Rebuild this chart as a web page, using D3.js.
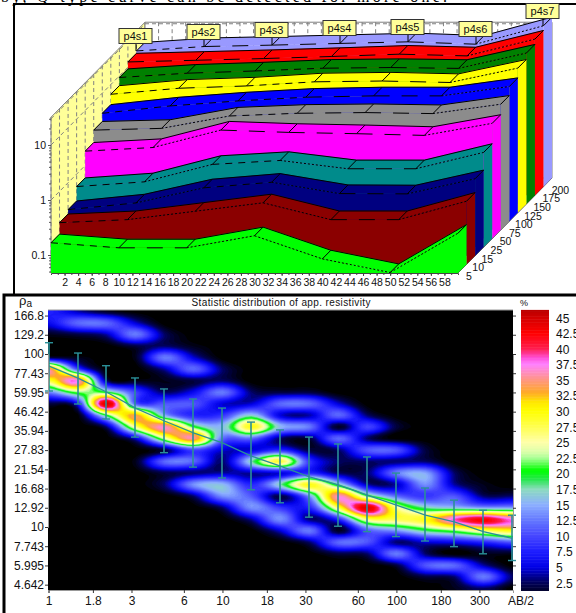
<!DOCTYPE html>
<html>
<head>
<meta charset="utf-8">
<style>
  html, body { margin: 0; padding: 0; background: #fff; overflow: hidden; }
  text { font-family: "Liberation Sans", Arial, sans-serif; fill: #111; }
  .tick text { font-family: "Liberation Sans", Arial, sans-serif; fill: #111; }
</style>
<script src="https://cdn.jsdelivr.net/npm/d3@7/dist/d3.min.js"></script>
</head>
<body>
<svg id="container" width="576" height="613"></svg>
<script>
// ---- data ----

// upper chart: one row of resistivity per depth, one value per station
var stationX = [0, 10, 20, 30, 40, 50, 60];
var stationNames = ['p4s1', 'p4s2', 'p4s3', 'p4s4', 'p4s5', 'p4s6', 'p4s7'];
var depthNames = [5, 10, 15, 25, 50, 75, 100, 125, 150, 175, 200];
var depthColors = ['#00ff00', '#8b0000', '#000080', '#008b8b', '#ff00ff', '#8c8c8c', '#0000ff', '#ffff00', '#008000', '#ff0000', '#9999ff'];
var depth5 = [0.167, 0.135, 0.135, 0.224, 0.085, 0.048, 0.249];
var depth10 = [0.27, 0.306, 0.435, 0.619, 0.306, 0.306, 0.662];
var depth15 = [0.324, 0.429, 0.807, 1.02, 0.635, 0.627, 1.18];
var depth25 = [0.593, 0.723, 1.5, 1.77, 1.25, 1.25, 2.48];
var depth50 = [1.82, 2.12, 4.4, 3.99, 3.78, 3.52, 5.83];
var depth75 = [3.06, 3.29, 5.52, 6.19, 6.37, 6.11, 9.04];
var depth100 = [4.31, 5.86, 7.23, 8.45, 8.93, 8.93, 13.2];
var depth125 = [6.65, 8.56, 9.43, 11.2, 11.6, 10.9, 19.9];
var depth150 = [9.35, 11.2, 12.3, 13.8, 14.2, 13.7, 26];
var depth175 = [12.5, 13.4, 14.4, 15.7, 17.3, 16.1, 32.5];
var depth200 = [13.8, 16.6, 17.6, 18.9, 20.2, 18.3, 39.6];
var surfaces = [depth5, depth10, depth15, depth25, depth50, depth75, depth100, depth125, depth150, depth175, depth200];

// lower chart: axes
var abTicks = [1, 1.8, 3, 6, 10, 18, 30, 60, 100, 180, 300];
var rhoTicks = [166.8, 129.2, 100, 77.43, 59.95, 46.42, 35.94, 27.83, 21.54, 16.68, 12.92, 10, 7.743, 5.995, 4.642];
var percentTicks = [45, 42.5, 40, 37.5, 35, 32.5, 30, 27.5, 25, 22.5, 20, 17.5, 15, 12.5, 10, 7.5, 5, 2.5];

// AB/2 of each column, with error bars on rho
var abColumns = [1, 1.468, 2.154, 3.162, 4.642, 6.813, 10, 14.68, 21.54, 31.62, 46.42, 68.13, 100, 146.8, 215.4, 316.2, 464.2];
var rhoMean = [85.3, 72.7, 60.3, 48.7, 41, 35, 30.6, 25.7, 22.5, 19.5, 17.5, 15.3, 13.4, 11.7, 10.7, 9.4, 8.6];
var rhoHigh = [116.2, 101.3, 85.6, 72.7, 62.8, 54.9, 48.7, 40.4, 36.4, 33.1, 30.2, 25.4, 20.5, 16.8, 14.3, 12.5, 11.7];
var rhoLow = [61.1, 51.4, 42.1, 33.1, 26.9, 22.2, 19.2, 16.4, 13.8, 11.4, 10.1, 9.4, 8.8, 8.3, 7.7, 7, 6.4];

// percent of soundings in each rho class (top row first), one column per abColumns
var rhoRows = [177, 151, 129.5, 111, 95.3, 81.7, 70.1, 60.1, 51.6, 44.2, 37.9, 32.5, 27.9, 23.9, 20.5, 17.6, 15.1, 12.95, 11.1, 9.52, 8.17, 7, 6.01, 5.15, 4.42];
var percentGrid = [
  [ 8, 4, 1, 0, 0, 0, 0, 0, 0, 0, 0, 0, 0, 0, 0, 0, 0],
  [ 6,12,12, 5, 0, 0, 0, 0, 0, 0, 0, 0, 0, 0, 0, 0, 0],
  [ 1, 2, 4,13, 3, 0, 0, 0, 0, 0, 0, 0, 0, 0, 0, 0, 0],
  [ 0, 0, 0, 2, 3, 1, 0, 0, 0, 0, 0, 0, 0, 0, 0, 0, 0],
  [ 2, 1, 0, 1,13, 5, 0, 0, 0, 0, 0, 0, 0, 0, 0, 0, 0],
  [36,10, 0, 0, 4,12, 3, 0, 0, 0, 0, 0, 0, 0, 0, 0, 0],
  [28,38, 3, 1, 1, 2, 3, 0, 0, 0, 0, 0, 0, 0, 0, 0, 0],
  [13,22,20,10, 3, 6,13, 3, 2, 2, 0, 0, 0, 0, 0, 0, 0],
  [ 2, 6,46,11,11,11, 5, 5,12,12, 5, 0, 0, 0, 0, 0, 0],
  [ 0, 0,20,34,15, 8, 9,17, 5, 4,12, 3, 0, 0, 0, 0, 0],
  [ 0, 0, 3,26,37,21,16,30,16,13, 1,10, 2, 0, 0, 0, 0],
  [ 0, 0, 0, 5,24,36,12,12, 3, 2,12, 3, 0, 0, 0, 0, 0],
  [ 0, 0, 0, 0, 2,10, 5, 5, 8, 2, 3,11,11, 2, 0, 0, 0],
  [ 0, 0, 0, 1,12,12, 3,18,29, 9, 3, 3, 3, 3, 0, 0, 0],
  [ 0, 0, 0, 0, 2, 3, 4, 4, 5, 8, 3, 3,13,15, 3, 0, 0],
  [ 0, 0, 0, 0, 3,14,16, 8,18,30,18, 4, 4,14, 4, 1, 0],
  [ 0, 0, 0, 0, 0, 3,14,11, 2,14,37,21,12, 9,11, 3, 3],
  [ 0, 0, 0, 0, 0, 0, 3,14, 9, 8,28,45,26,18,16,14,14],
  [ 0, 0, 0, 0, 0, 0, 0, 4,14, 3, 8,27,28,30,39,43,38],
  [ 0, 0, 0, 0, 0, 0, 0, 0, 5,13, 1,11,14,19,22,27,30],
  [ 0, 0, 0, 0, 0, 0, 0, 0, 0, 3,12,11, 3, 5, 6, 8,11],
  [ 0, 0, 0, 0, 0, 0, 0, 0, 0, 0, 2, 3,13, 3, 0, 1, 1],
  [ 0, 0, 0, 0, 0, 0, 0, 0, 0, 0, 0, 0, 2,11,12, 4, 0],
  [ 0, 0, 0, 0, 0, 0, 0, 0, 0, 0, 0, 0, 0, 2, 3,13, 3],
  [ 0, 0, 0, 0, 0, 0, 0, 0, 0, 0, 0, 0, 0, 0, 1, 3, 0]
];

// colour bar stops
var rampLevels = [0, 2.5, 5, 7.5, 10, 12.5, 15, 17.5, 19, 20.5, 22.5, 23.5, 25, 27.5, 30, 31.5, 33, 35, 37.5, 38.5, 40, 42.5, 45, 47];
var rampColors = ['#000000', '#00005a', '#0000e6', '#1e1eff', '#4646ff', '#6478ff', '#8cafff', '#8cdcbe', '#28e650', '#00ff00', '#aaff96', '#dcffaa', '#ffffaa', '#ffff50', '#ffff00', '#ffe600', '#ffaa28', '#ff9682', '#ff82ff', '#ff50dc', '#ff1e50', '#ff0000', '#d20000', '#aa0000'];


var svg = d3.select('#container');

// scrap of the page text above the figures, cut by the top of the picture
svg.append('text')
    .attr('x', 1)
    .attr('y', 2)
    .attr('textLength', 446)
    .style('font-family', '"Liberation Serif", serif')
    .style('font-size', '16px')
    .style('fill', '#000')
    .text('by, Q-type curve can be detected for more one.');

// panel frames
svg.append('path').attr('d', 'M14,294V4H576').attr('fill', 'none').attr('stroke', '#000').attr('stroke-width', 2);
svg.append('path').attr('d', 'M4,613V295H576').attr('fill', 'none').attr('stroke', '#000').attr('stroke-width', 3);


// ---- upper chart ----
var x3d = d3.scaleLinear().domain([0, 60]).range([51, 458]);
var z3d = d3.scaleLog().domain([0.1, 10]).range([255, 145]);
var dx3d = d3.scaleLinear().domain([0, 11]).range([0, 94]);
var dy3d = d3.scaleLinear().domain([0, 11]).range([0, -95]);
var baseY = 273;
var topZ = 32;

// project station x, value v, depth slot d to the page
function proj(x, v, d){
  return [x3d(x) + dx3d(d), z3d(v) + dy3d(d)];
}
function projBase(x, d){
  return [x3d(x) + dx3d(d), baseY + dy3d(d)];
}
function poly(pts){
  return 'M' + pts.map(p => p.join(',')).join('L') + 'Z';
}

var upper = svg.append('g');
var wallGrey = '#808080';

// walls
upper.append('path')
    .attr('d', poly([projBase(0, 0), proj(0, topZ, 0), proj(0, topZ, 11), projBase(0, 11)]))
    .attr('fill', '#ffff99').attr('stroke', wallGrey);
upper.append('path')
    .attr('d', poly([projBase(0, 11), proj(0, topZ, 11), proj(60, topZ, 11), projBase(60, 11)]))
    .attr('fill', '#fff').attr('stroke', wallGrey);
upper.append('path')
    .attr('d', poly([projBase(60, 0), projBase(60, 11)]))
    .attr('fill', 'none').attr('stroke', '#555');

// wall grid
var wallGrid = upper.append('g').attr('fill', 'none').attr('stroke', wallGrey).attr('stroke-dasharray', '4,3');
d3.range(2, 60, 2).forEach(function(x){
  wallGrid.append('path').attr('d', d3.line()([proj(x, topZ, 11), projBase(x, 11)]));
});
depthNames.forEach(function(n, i){
  wallGrid.append('path').attr('d', d3.line()([proj(0, topZ, i), projBase(0, i)]));
});
[1, 10, 30].forEach(function(v){
  wallGrid.append('path').attr('d', d3.line()([proj(0, v, 0), proj(0, v, 11)]));
  wallGrid.append('path').attr('d', d3.line()([proj(0, v, 11), proj(60, v, 11)]));
});

// surfaces, back to front
d3.range(surfaces.length - 1, -1, -1).forEach(function(d){
  var vals = surfaces[d];
  var color = depthColors[d];
  var front = stationX.map((x, k) => proj(x, vals[k], d));
  var back = stationX.map((x, k) => proj(x, vals[k], d + 1));
  var g = upper.append('g');

  // right side
  g.append('path')
      .attr('d', poly([front[6], back[6], projBase(60, d + 1), projBase(60, d)]))
      .attr('fill', color);
  // top ribbon
  g.append('path')
      .attr('d', poly(front.concat(back.slice().reverse())))
      .attr('fill', color).attr('stroke', color).attr('stroke-width', 0.5);
  // front face
  g.append('path')
      .attr('d', poly(front.concat([projBase(60, d), projBase(0, d)])))
      .attr('fill', color);

  // back edge, solid
  g.append('path')
      .attr('d', d3.line()(back))
      .attr('fill', 'none').attr('stroke', '#000');

  // front edge, stippled; the stipple looks longer where the line is flat
  d3.pairs(front).forEach(function(seg){
    var slope = Math.abs((seg[1][1] - seg[0][1]) / (seg[1][0] - seg[0][0]));
    g.append('path')
        .attr('d', d3.line()(seg))
        .attr('fill', 'none').attr('stroke', '#000')
        .attr('stroke-dasharray', slope < 0.04 ? '16,12' : (slope < 0.12 ? '7,6' : '2,2'));
  });

  // ties between the two edges
  front.forEach(function(p, k){
    g.append('path').attr('d', d3.line()([p, back[k]])).attr('fill', 'none').attr('stroke', '#000');
  });
});

// x axis
upper.append('g')
    .attr('transform', `translate(0, ${baseY})`)
    .call(d3.axisBottom(x3d).tickValues(d3.range(1, 60)).tickSize(2).tickFormat(''))
    .call(g => g.selectAll('line').attr('stroke', '#444'))
    .call(g => g.select('.domain').attr('stroke', '#444'));
upper.append('g')
    .attr('transform', `translate(0, ${baseY})`)
    .call(d3.axisBottom(x3d).tickValues(d3.range(2, 60, 2)).tickSize(3).tickPadding(3))
    .call(g => g.select('.domain').remove())
    .call(g => g.selectAll('line').attr('stroke', '#444'))
    .call(g => g.selectAll('text').style('font-size', '10.5px').attr('fill', '#222'));

// value axis
var zMinor = [];
[0.01, 0.1, 1, 10].forEach(dec => d3.range(1, 10).forEach(m => { if(m*dec >= 0.05 && m*dec <= topZ) zMinor.push(m*dec); }));
upper.append('g')
    .attr('transform', 'translate(51, 0)')
    .call(d3.axisLeft(z3d).tickValues(zMinor).tickSize(2).tickFormat(''))
    .call(g => g.select('.domain').remove())
    .call(g => g.selectAll('line').attr('stroke', '#555'));
upper.append('g')
    .attr('transform', 'translate(51, 0)')
    .call(d3.axisLeft(z3d).tickValues([0.1, 1, 10]).tickSize(3).tickPadding(2).tickFormat(d3.format('~g')))
    .call(g => g.select('.domain').remove())
    .call(g => g.selectAll('line').attr('stroke', '#555'))
    .call(g => g.selectAll('text').style('font-size', '10.5px').attr('fill', '#222'));

// depth labels
upper.append('g').selectAll('text')
    .data(depthNames)
  .enter().append('text')
    .attr('x', (d, i) => projBase(60, i)[0] + 11 + i * 0.6)
    .attr('y', (d, i) => projBase(60, i)[1] + 7)
    .attr('text-anchor', 'middle')
    .attr('fill', '#222')
    .style('font-size', '10.5px')
    .text(d => d);

// station labels on the last surface
var stations = upper.append('g').selectAll('g')
    .data(stationNames)
  .enter().append('g')
    .attr('transform', (d, k) => {
      var p = proj(stationX[k], depth200[k], 10);
      return `translate(${Math.round(p[0])}, ${Math.round(p[1])})`;
    });
stations.append('line').attr('y1', -8).attr('y2', 0).attr('stroke', '#000');
stations.append('rect')
    .attr('x', -17).attr('y', -22.5).attr('width', 33).attr('height', 15)
    .attr('fill', '#ffff99').attr('stroke', '#333');
stations.append('text')
    .attr('x', -0.5).attr('y', -11)
    .attr('text-anchor', 'middle')
    .style('font-size', '11px')
    .text(d => d);


// ---- lower chart ----
var plot = {left: 48, right: 513, top: 310, bottom: 590};
var xAb = d3.scaleLog().domain([1, 468]).range([48.5, 513]);
var yRho = d3.scaleLog().domain([100, 10]).range([354, 527]);
var yPct = d3.scaleLinear().domain([45, 2.5]).range([318, 583]);
var heatColor = d3.scaleLinear().domain(rampLevels).range(rampColors).clamp(true);

var lower = svg.append('g');

lower.append('clipPath').attr('id', 'plotClip')
  .append('rect')
    .attr('x', plot.left).attr('y', plot.top)
    .attr('width', plot.right - plot.left).attr('height', plot.bottom - plot.top);

var heat = lower.append('g').attr('clip-path', 'url(#plotClip)');
heat.append('rect')
    .attr('x', plot.left).attr('y', plot.top)
    .attr('width', plot.right - plot.left).attr('height', plot.bottom - plot.top)
    .attr('fill', '#000');

// the original image is a smoothed raster, so resample the grid (cubic) before contouring
var fine = 5;
function cubic(a, b, c, d, t){
  return b + 0.5*t*(c - a + t*(2*a - 5*b + 4*c - d + t*(3*(b - c) + d - a)));
}
function resample(arr, n){
  var out = [];
  for(var g = 0; g < n; g++){
    var u = (g + 0.5)/fine - 0.5;
    var i = Math.max(0, Math.min(arr.length - 2, Math.floor(u)));
    var at = j => arr[Math.max(0, Math.min(arr.length - 1, j))];
    out.push(cubic(at(i - 1), at(i), at(i + 1), at(i + 2), u - i));
  }
  return out;
}
var nx = abColumns.length * fine, ny = rhoRows.length * fine;
var rowsFine = percentGrid.map(r => resample(r, nx));
var heatValues = [];
d3.range(nx).forEach(function(ix){
  var col = resample(rowsFine.map(r => r[ix]), ny);
  col.forEach((v, iy) => { heatValues[iy*nx + ix] = Math.max(0, v); });
});

// contour grid coordinates back to the page through the chart scales
var colPx = d3.scaleLinear().domain(d3.range(abColumns.length)).range(abColumns.map(v => xAb(v)));
var rowPx = d3.scaleLinear().domain(d3.range(rhoRows.length)).range(rhoRows.map(v => yRho(v)));
var gridPath = d3.geoPath(d3.geoTransform({
  point: function(gx, gy){ this.stream.point(colPx(gx/fine - 0.5), rowPx(gy/fine - 0.5)); }
}));

var levels = d3.range(0.5, 47, 0.5);
var contours = d3.contours()
    .size([nx, ny])
    .thresholds(levels)(heatValues);

heat.selectAll('path')
    .data(contours)
  .enter().append('path')
    .attr('d', gridPath)
    .attr('fill', d => heatColor(d.value));

// mean line and error bars
var teal = '#2a8f98';
heat.append('path')
    .attr('d', d3.line().x((d, i) => xAb(abColumns[i])).y(d => yRho(d))(rhoMean))
    .attr('fill', 'none').attr('stroke', teal).attr('stroke-width', 1.3);

var bars = lower.append('g').attr('stroke', teal);
abColumns.forEach(function(ab, i){
  var cx = Math.round(xAb(ab));
  bars.append('line').attr('x1', cx).attr('x2', cx).attr('y1', yRho(rhoHigh[i])).attr('y2', yRho(rhoLow[i])).attr('stroke-width', 1.6);
  [rhoHigh[i], rhoLow[i]].forEach(function(r){
    bars.append('line').attr('x1', cx - 4).attr('x2', cx + 4).attr('y1', yRho(r)).attr('y2', yRho(r)).attr('stroke-width', 1.4);
  });
});

// axes
function styleAxis(g){
  g.select('.domain').attr('stroke', '#999');
  g.selectAll('line').attr('stroke', '#333');
  g.selectAll('text').style('font-size', '12px').attr('fill', '#222');
}
lower.append('g')
    .attr('transform', `translate(0, ${plot.bottom})`)
    .call(d3.axisBottom(xAb).tickValues(abTicks).tickSize(3).tickPadding(3).tickFormat(d => d))
    .call(styleAxis);
lower.append('g')
    .attr('transform', `translate(${plot.left}, 0)`)
    .call(d3.axisLeft(yRho).tickValues(rhoTicks).tickSize(3).tickPadding(1).tickFormat(d => d))
    .call(styleAxis);
lower.append('g')
    .attr('transform', `translate(${plot.right}, 0)`)
    .call(d3.axisRight(yRho).tickValues(rhoTicks).tickSize(3).tickFormat(''))
    .call(styleAxis);
lower.append('line')
    .attr('x1', plot.left).attr('x2', plot.right).attr('y1', plot.top).attr('y2', plot.top)
    .attr('stroke', '#999');

lower.append('text')
    .attr('x', 521).attr('y', 605)
    .attr('text-anchor', 'middle')
    .style('font-size', '12px').attr('fill', '#222')
    .text('AB/2');

lower.append('text')
    .attr('x', 281).attr('y', 305.5)
    .attr('text-anchor', 'middle')
    .attr('textLength', 179)
    .style('font-size', '10px')
    .text('Statistic distribution of app. resistivity');

var rhoLabel = lower.append('text').attr('x', 19).attr('y', 305).style('font-size', '13px').attr('fill', '#222');
rhoLabel.append('tspan').text('ρ');
rhoLabel.append('tspan').attr('dy', 2).style('font-size', '10px').text('a');

// colour bar
var barSteps = d3.range(1.3, 46.1, 0.25);
lower.append('g').selectAll('rect')
    .data(barSteps)
  .enter().append('rect')
    .attr('x', 521).attr('width', 28)
    .attr('y', d => yPct(d + 0.25))
    .attr('height', yPct(0) - yPct(0.25) + 0.5)
    .attr('fill', d => heatColor(d));

lower.append('g').selectAll('text')
    .data(percentTicks)
  .enter().append('text')
    .attr('x', 556)
    .attr('y', d => yPct(d) + 4.5)
    .style('font-size', '12px').attr('fill', '#222')
    .text(d => d);

lower.append('text')
    .attr('x', 524).attr('y', 306)
    .attr('text-anchor', 'middle')
    .style('font-size', '9px').attr('fill', '#222')
    .text('%');
</script>
</body>
</html>
